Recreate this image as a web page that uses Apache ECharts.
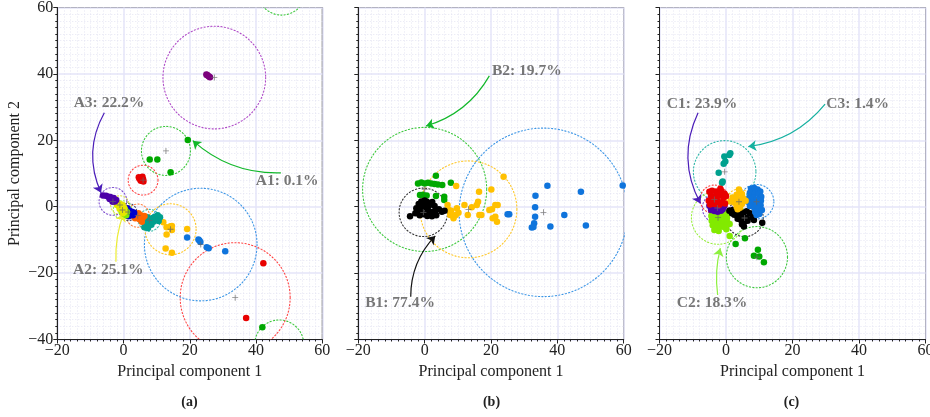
<!DOCTYPE html>
<html><head><meta charset="utf-8">
<script src="https://cdn.jsdelivr.net/npm/echarts@6/dist/echarts.min.js"></script>
<style>html,body{margin:0;padding:0;background:#fff}#c{width:930px;height:417px}</style>
</head><body><div id="c"></div>
<script>
// ---------- axes / text ----------
const xTicks = [-20, 0, 20, 40, 60];
const yTicks = [-40, -20, 0, 20, 40, 60];
const axisTitles = ['Principal component 1', 'Principal component 2'];
const captions = ['(a)', '(b)', '(c)'];

// ---------- panel (a) points ----------
const aPurple = [[25.0,39.8],[25.4,39.5],[25.8,39.2],[26.1,39.0],[25.2,39.7]];
const aGreen  = [[19.4,20.1],[7.9,14.2],[10.2,14.2],[14.2,10.4]];
const aGreen2 = [[41.9,-36.3]];
const aGreen3 = [];
const aRed    = [[4.6,8.9],[5.3,8.6],[5.9,8.3],[5.2,7.8],[4.8,8.4],[5.7,9.0],[6.0,7.6],[5.5,8.1]];
const aRed2   = [[42.2,-17.0],[37.0,-33.5]];
const aBlue   = [[19.2,-9.3],[22.6,-9.9],[22.9,-10.2],[23.2,-10.6],[25.1,-12.2],[25.7,-12.5],[30.7,-13.4]];
const aGold   = [[12.0,-4.7],[13.0,-6.2],[14.2,-5.9],[14.6,-5.8],[14.6,-7.0],[13.0,-8.4],[19.2,-6.7],[12.7,-12.6],[14.6,-13.9]];
const aTeal   = [[5.8,-3.0],[6.5,-3.6],[7.2,-3.2],[8.0,-3.8],[8.8,-3.4],[9.5,-3.0],[10.3,-2.6],[11.0,-3.2],[10.0,-4.0],[9.0,-4.5],[7.6,-4.6],[6.6,-4.8],[7.0,-5.6],[6.3,-6.2],[7.4,-6.4],[8.4,-5.4],[5.5,-4.2],[10.6,-4.3]];
const aOrange = [[3.0,-1.8],[3.8,-2.2],[4.5,-2.0],[5.2,-2.6],[4.0,-3.0],[5.8,-3.3],[3.5,-3.5],[4.8,-3.8],[6.3,-2.8],[5.5,-4.5],[2.8,-2.7]];
const aNavy   = [[0.5,-0.8],[1.2,-0.5],[1.8,-1.2],[2.5,-1.5],[1.0,-1.8],[2.0,-2.3],[2.8,-2.6],[1.5,-2.9],[3.2,-1.8]];
const aLime   = [[-1.0,-0.2],[-0.3,-0.8],[0.5,-1.0],[0.2,-2.2],[1.0,-1.6],[-0.6,-1.5],[0.8,-2.6]];
const aYellow = [[-2.5,1.5],[-1.8,1.2],[-1.0,0.8],[-1.5,0.3],[-0.8,0.0],[-2.0,0.6],[-0.3,0.5],[0.2,-0.3],[-1.2,-0.6],[-0.5,-1.0],[0.3,-1.5],[-0.2,-2.0]];
const aIndigo = [[-6.2,3.4],[-5.3,3.3],[-4.6,3.0],[-4.0,2.9],[-3.6,2.2],[-3.0,2.6],[-2.6,1.6],[-3.3,1.5],[-4.2,2.3],[-2.2,2.0]];
const aKeys    = ['purple','green','green2','green3','red','red2','blue','gold','teal','orange','navy','lime','yellow','indigo'];
const aPoints  = [aPurple,aGreen,aGreen2,aGreen3,aRed,aRed2,aBlue,aGold,aTeal,aOrange,aNavy,aLime,aYellow,aIndigo];
const aCenters = [[27.4,38.9],[12.8,16.8],[47.0,-41.5],[47.7,65.0],[5.9,8.0],[33.7,-27.4],[23.3,-11.4],[14.2,-6.8],[7.8,-4.1],[4.3,-2.7],[1.4,-1.6],[-0.3,-1.0],[-1.1,0.5],[-3.2,1.6]];
const aRadii   = [15.5,7.4,7.4,7.3,4.5,16.6,17.0,7.7,3.3,3.5,2.6,2.8,2.8,4.2];
const aNotes     = ['A3: 22.2%','A1: 0.1%','A2: 25.1%'];
const aNoteAt    = [[-4.4,31.2],[49.4,7.8],[-4.6,-19.1]];
const aArrowFrom = [[-5.8,28.3],[47.5,10.2],[-2.3,-16.6]];
const aArrowTo   = [[-6.8,4.2],[20.9,19.9],[0.0,-2.0]];
const aArrowKey  = ['indigo','green','yellow'];

// ---------- panel (b) points ----------
const bBlue  = [[37.0,6.3],[47.1,4.5],[59.7,6.4],[33.4,3.3],[33.3,-0.2],[25.5,-2.3],[25.0,-2.3],[33.3,-3.0],[42.1,-2.5],[33.0,-5.0],[32.3,-6.3],[37.9,-6.0],[48.6,-5.7],[32.8,-6.1]];
const bGold  = [[23.8,9.0],[9.5,6.2],[16.4,4.5],[20.1,5.2],[6.9,0.5],[7.7,-2.5],[9.7,-0.5],[8.7,-3.5],[12.0,0.5],[14.2,-0.2],[16.1,1.5],[17.1,-2.5],[19.5,-1.0],[20.5,-3.5],[21.3,0.5],[21.8,-4.5],[21.3,-3.0],[22.0,0.5],[15.7,0.5],[13.0,-2.5],[9.4,-2.5],[8.0,-1.2],[10.2,-1.8],[7.3,-1.0],[20.3,-0.8],[16.5,-2.5]];
const bGreen = [[-2.0,7.0],[-1.0,7.3],[0.0,7.0],[1.0,7.2],[2.0,7.0],[3.0,6.8],[4.0,6.7],[5.3,6.5],[3.4,9.3],[7.9,7.2],[-1.4,3.5],[-0.5,3.6],[0.6,3.4],[3.4,3.2],[5.9,3.0],[5.9,2.0]];
const bBlack = [[-4.4,-2.9],[-2.5,-0.5],[-1.8,0.8],[-1.0,1.6],[0.0,1.9],[0.8,1.2],[1.5,0.5],[2.3,1.4],[3.0,0.2],[-2.0,-1.5],[-1.0,-0.8],[0.0,-0.2],[1.0,-1.0],[2.0,-1.6],[3.2,-1.2],[4.3,-0.8],[5.2,-1.5],[6.0,-1.2],[-1.5,-2.6],[-0.3,-2.3],[0.8,-2.8],[2.2,-2.9],[3.5,-2.6],[-2.8,-2.0],[0.3,0.7],[-0.8,0.3],[0.65,1.5]];
const bKeys    = ['green','gold','blue','black'];
const bPoints  = [bGreen,bGold,bBlue,bBlack];
const bCenters = [[0.0,5.2],[13.2,-0.8],[35.8,-1.7],[-0.4,-1.7]];
const bRadii   = [18.7,14.6,25.4,7.3];
const bNotes     = ['B2: 19.7%','B1: 77.4%'];
const bNoteAt    = [[30.8,41.0],[-7.4,-28.9]];
const bArrowFrom = [[19.5,39.4],[-4.2,-27.1]];
const bArrowTo   = [[0.4,24.3],[3.2,-8.8]];
const bArrowKey  = ['green','black'];

// ---------- panel (c) points ----------
const cTeal   = [[1.3,16.1],[1.0,15.6],[-0.5,15.1],[-0.2,13.6],[-0.7,12.9],[-2.2,10.2],[-1.2,7.2],[-1.0,7.6]];
const cGreen  = [[2.9,-11.2],[5.7,-9.5],[9.6,-13.0],[8.4,-14.8],[10.0,-15.0],[11.4,-16.7]];
const cLime   = [[-4.2,-1.6],[-3.0,-1.5],[-1.8,-1.7],[-0.6,-1.8],[0.4,-2.2],[-4.4,-2.8],[-3.2,-2.8],[-2.0,-3.0],[-0.8,-3.2],[0.3,-3.4],[-4.3,-4.2],[-3.0,-4.3],[-1.8,-4.5],[-0.6,-4.6],[0.5,-4.8],[-4.0,-5.6],[-2.8,-5.8],[-1.5,-6.0],[-0.4,-6.2],[-3.5,-7.0],[-2.2,-7.3],[1.1,-5.2],[0.1,-6.8],[1.1,-8.8]];
const cBlack  = [[1.0,-1.2],[2.0,-1.0],[3.0,-1.5],[4.2,-1.2],[5.2,-1.8],[6.2,-1.4],[7.2,-2.0],[2.5,-2.4],[3.8,-2.6],[5.0,-3.0],[6.0,-3.3],[3.5,-3.6],[4.5,-4.0],[5.5,-4.5],[4.8,-5.3],[5.4,-6.0],[6.5,-4.2],[8.4,-4.0],[10.9,-4.8],[1.8,-2.0],[7.9,-3.2]];
const cBlue   = [[7.5,5.4],[8.5,5.6],[9.5,5.2],[10.3,4.6],[7.2,4.2],[8.6,4.0],[9.8,3.8],[10.6,3.0],[7.0,2.8],[8.2,2.6],[9.3,2.2],[10.5,1.8],[6.6,1.5],[8.0,1.2],[9.2,0.8],[10.4,0.4],[7.2,0.2],[8.5,-0.3],[9.6,-0.6],[10.8,-1.0],[8.8,-1.6],[10.0,-2.2],[9.2,-2.5]];
const cGold   = [[3.9,5.2],[4.2,4.3],[3.2,3.6],[4.8,3.8],[2.0,2.8],[3.0,2.4],[4.0,2.2],[5.2,2.5],[5.9,1.8],[1.3,1.6],[2.6,1.2],[3.8,1.0],[4.8,0.8],[3.2,0.0],[4.2,-0.3],[3.5,-0.8]];
const cIndigo = [[-5.0,0.3],[-4.0,0.0],[-3.0,-0.5],[-2.0,-0.2],[-1.0,-0.8],[-4.5,-1.0],[-3.5,-1.3],[-2.5,-1.5],[-0.5,0.2],[-1.5,-1.2]];
const cRed    = [[-5.0,4.5],[-4.2,4.8],[-3.0,4.6],[-1.7,5.4],[-1.5,4.8],[-0.5,4.0],[-4.5,3.2],[-3.2,3.0],[-2.0,3.5],[-0.8,2.6],[0.0,3.2],[-5.2,1.8],[-4.0,1.5],[-2.5,1.8],[-1.2,1.2],[-3.5,0.8],[-0.3,1.0],[-4.8,0.7],[-2.0,0.6]];
const cKeys    = ['teal','green','lime','black','blue','gold','indigo','red'];
const cPoints  = [cTeal,cGreen,cLime,cBlack,cBlue,cGold,cIndigo,cRed];
const cCenters = [[-0.4,10.5],[9.3,-15.2],[-2.4,-3.3],[5.6,-3.4],[9.2,1.5],[3.9,1.5],[-2.6,-0.4],[-3.5,2.2]];
const cRadii   = [9.4,9.2,8.0,5.6,5.2,3.8,4.5,4.3];
const cNotes     = ['C1: 23.9%','C3: 1.4%','C2: 18.3%'];
const cNoteAt    = [[-7.2,30.8],[39.6,30.8],[-4.2,-29.1]];
const cArrowFrom = [[-8.4,28.3],[29.8,30.9],[-2.5,-26.6]];
const cArrowTo   = [[-7.7,1.0],[6.7,18.1],[-1.7,-12.5]];
const cArrowKey  = ['indigo','teal','lime'];

// ---------- styles ----------
const pointColor = {purple:'#7c007c', green:'#00a800', red:'#e80000', blue:'#0f74dc', gold:'#ffc000', teal:'#00a08e', orange:'#ff6400', navy:'#0000cc', lime:'#82ea00', yellow:'#e6e600', indigo:'#4c00a8', black:'#000000'};
const ringColor  = {purple:'#b04cc8', green:'#3cc83c', red:'#ff4444', blue:'#3c96e6', gold:'#ffc828', teal:'#30b8a8', orange:'#ff8040', navy:'#444466', lime:'#9aee40', yellow:'#e0e040', indigo:'#8050d0', black:'#333333'};
const arrowColor = {indigo:'#4a1cb8', green:'#12b82a', yellow:'#ecec30', black:'#111111', teal:'#14b0a0', lime:'#8ef040'};
const baseKey = k => k.replace(/\d+$/, '');

const SERIF = '"Liberation Serif", "DejaVu Serif", serif';
const grids = [
  {left: 57.3, top: 7.5, width: 265, height: 332},
  {left: 358.3, top: 7.5, width: 265.4, height: 332},
  {left: 659.5, top: 7.5, width: 266, height: 332}
].map(g => Object.assign({show: true, borderColor: '#222', borderWidth: 1, backgroundColor: 'transparent', outerBoundsMode: 'none'}, g));

const minus = v => v < 0 ? '\u2212' + (-v) : String(v);
const xAxes = [], yAxes = [];
for (let i = 0; i < 3; i++) {
  xAxes.push({
    gridIndex: i, type: 'value', min: xTicks[0], max: xTicks[xTicks.length - 1], interval: 20,
    name: axisTitles[0], nameLocation: 'middle', nameGap: 18,
    nameTextStyle: {fontFamily: SERIF, fontSize: 16, color: '#222'},
    axisLine: {show: true, onZero: false, lineStyle: {color: '#222', width: 1}},
    axisTick: {show: true, length: 4, lineStyle: {color: '#222'}},
    minorTick: {show: true, splitNumber: 10, length: 2, lineStyle: {color: '#222'}},
    axisLabel: {fontFamily: SERIF, fontSize: 16, color: '#222', margin: 3, formatter: minus},
    splitLine: {show: true, lineStyle: {color: '#e4e4f8', width: 1.5}},
    minorSplitLine: {show: true, lineStyle: {color: '#e2e2f2', width: 0.9, type: [1, 2]}}
  });
  yAxes.push({
    gridIndex: i, type: 'value', min: yTicks[0], max: yTicks[yTicks.length - 1], interval: 20,
    name: i === 0 ? axisTitles[1] : '', nameLocation: 'middle', nameGap: 35,
    nameTextStyle: {fontFamily: SERIF, fontSize: 16, color: '#222'},
    axisLine: {show: true, onZero: false, lineStyle: {color: '#222', width: 1}},
    axisTick: {show: true, length: 4, lineStyle: {color: '#222'}},
    minorTick: {show: true, splitNumber: 10, length: 2, lineStyle: {color: '#222'}},
    axisLabel: {show: i === 0, fontFamily: SERIF, fontSize: 16, color: '#222', margin: 4, formatter: minus},
    splitLine: {show: true, lineStyle: {color: '#e4e4f8', width: 1.5}},
    minorSplitLine: {show: true, lineStyle: {color: '#e2e2f2', width: 0.9, type: [1, 2]}}
  });
}

const series = [];
function addPanel(g, keys, points, centers, radii, notes, noteAt, from, to, arrowKeys, curv) {
  // dotted cluster circles
  series.push({
    type: 'custom', xAxisIndex: g, yAxisIndex: g, clip: true, z: 1, silent: true,
    data: centers.map((c, i) => [c[0], c[1], radii[i], i]),
    renderItem: (params, api) => {
      const p = api.coord([api.value(0), api.value(1)]);
      const r = api.size([api.value(2), 0])[0];
      const k = baseKey(keys[api.value(3)]);
      return {type: 'circle', shape: {cx: p[0], cy: p[1], r: r},
        style: {fill: 'none', stroke: ringColor[k], lineWidth: 1.1, lineDash: [1.2, 2.2], lineCap: 'round'}};
    }
  });
  // annotation arrows
  series.push({
    type: 'lines', coordinateSystem: 'cartesian2d', xAxisIndex: g, yAxisIndex: g, z: 2, silent: true,
    symbol: ['none', 'arrow'], symbolSize: 8,
    lineStyle: {opacity: 1, width: 1.2},
    data: from.map((f, i) => ({coords: [f, to[i]], lineStyle: {color: arrowColor[arrowKeys[i]], opacity: 1, width: 1.2, curveness: curv[i]}}))
  });
  // points
  keys.forEach((k, i) => {
    if (!points[i].length) return;
    series.push({
      type: 'scatter', xAxisIndex: g, yAxisIndex: g, z: 3, silent: true,
      symbolSize: 6.5, itemStyle: {color: pointColor[baseKey(k)], opacity: 1},
      data: points[i]
    });
  });
  // cluster centres
  series.push({
    type: 'scatter', xAxisIndex: g, yAxisIndex: g, z: 4, silent: true,
    symbol: 'path://M-1,-0.14 L1,-0.14 L1,0.14 L-1,0.14 Z M-0.14,-1 L0.14,-1 L0.14,1 L-0.14,1 Z',
    symbolSize: 6, itemStyle: {color: '#666'}, data: centers
  });
  // annotation text
  series.push({
    type: 'scatter', xAxisIndex: g, yAxisIndex: g, z: 5, silent: true, clip: false,
    symbolSize: 1, itemStyle: {color: 'rgba(0,0,0,0)'},
    label: {show: true, position: 'inside', formatter: p => p.name,
      fontFamily: SERIF, fontSize: 15.5, fontWeight: 'bold', color: '#555'},
    data: notes.map((t, i) => ({name: t, value: noteAt[i]}))
  });
}
addPanel(0, aKeys, aPoints, aCenters, aRadii, aNotes, aNoteAt, aArrowFrom, aArrowTo, aArrowKey, [-0.25, 0.2, 0.1]);
addPanel(1, bKeys, bPoints, bCenters, bRadii, bNotes, bNoteAt, bArrowFrom, bArrowTo, bArrowKey, [0.2, 0.2]);
addPanel(2, cKeys, cPoints, cCenters, cRadii, cNotes, cNoteAt, cArrowFrom, cArrowTo, cArrowKey, [-0.25, 0.2, 0.1]);

const capX = [189.5, 491.5, 791.5];
const chart = echarts.init(document.getElementById('c'), null, {renderer: 'canvas'});
chart.setOption({
  animation: false,
  backgroundColor: '#fff',
  grid: grids, xAxis: xAxes, yAxis: yAxes, series: series,
  graphic: captions.map((t, i) => ({type: 'text', x: capX[i], y: 402,
    style: {text: t, align: 'center', verticalAlign: 'middle', font: 'bold 14px ' + SERIF, fill: '#222'}}))
});
</script></body></html>
